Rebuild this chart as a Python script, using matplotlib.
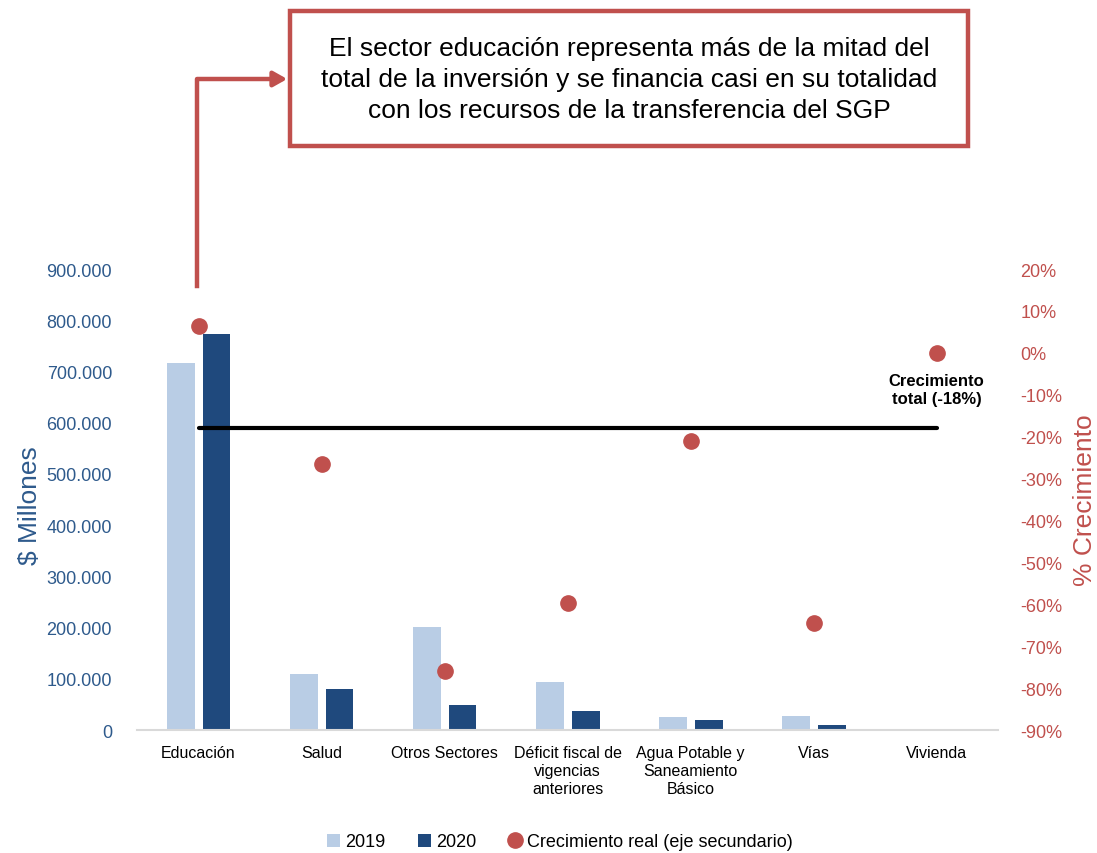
import matplotlib
matplotlib.use("Agg")
import matplotlib.pyplot as plt
import numpy as np

plt.rcParams['font.family'] = ['Liberation Sans', 'DejaVu Sans']

sectores = ["Educación", "Salud", "Otros Sectores", "Déficit fiscal de\nvigencias\nanteriores",
            "Agua Potable y\nSaneamiento\nBásico", "Vías", "Vivienda"]
inv_2019 = [717000, 109000, 200500, 94000, 25000, 28000, 0]
inv_2020 = [773000, 81000, 48000, 38000, 19500, 10000, 0]
crecimiento = [6.5, -26.5, -76, -59.7, -21, -64.4, 0.0]
crec_total = -18

azul_claro = "#B9CDE5"
azul = "#1F497D"
rojo = "#C0504D"
azul_txt = "#2E5A8C"

fig = plt.figure(figsize=(10.97, 8.54), dpi=100)
ax = fig.add_axes([0.1249, 0.144, 0.785, 0.5398])
ax2 = ax.twinx()

x = np.arange(len(sectores))
w = 0.227
ax.bar(x - 0.146, inv_2019, w, color=azul_claro, label="2019", zorder=2)
ax.bar(x + 0.146, inv_2020, w, color=azul, label="2020", zorder=2)

ax.set_xlim(-0.5, 6.5)
ax.set_ylim(0, 900000)
ax.set_yticks(np.arange(0, 900001, 100000))
ax.set_yticklabels(["0"] + [f"{v:,}".replace(",", ".") for v in range(100000, 900001, 100000)])
ax.set_xticks(x)
ax.set_xticklabels(sectores, fontsize=11.5, color="black", linespacing=1.25)
ax.tick_params(axis="y", length=0, labelsize=13, labelcolor=azul_txt, pad=18)
ax.tick_params(axis="x", length=0, pad=11)
ax.set_ylabel("$ Millones", fontsize=19, color=azul_txt, va="center")
ax.yaxis.set_label_coords(-0.124, 0.49)

for a in (ax, ax2):
    for s in ("top", "left", "right"):
        a.spines[s].set_visible(False)
ax.spines["bottom"].set_color("#D9D9D9")
ax.spines["bottom"].set_linewidth(1.5)
ax2.spines["bottom"].set_visible(False)

ax2.plot(x, crecimiento, "o", color=rojo, markersize=11, linestyle="none",
         label="Crecimiento real (eje secundario)", zorder=3)
ax2.plot([x[0], x[-1]], [crec_total, crec_total], color="black", lw=3, solid_capstyle="round", zorder=2)
ax2.set_ylim(-90, 20)
ax2.set_yticks(np.arange(-90, 21, 10))
ax2.set_yticklabels([f"{v}%" for v in range(-90, 21, 10)])
ax2.tick_params(axis="y", length=0, labelsize=13, labelcolor=rojo, pad=16)
ax2.set_ylabel("% Crecimiento", fontsize=19, color=rojo, va="center")
ax2.yaxis.set_label_coords(1.101, 0.5)
ax2.text(x[-1], crec_total + 9.3, "Crecimiento\ntotal (-18%)", ha="center", va="center",
         fontsize=12, fontweight="bold", linespacing=1.25)

# cuadro de texto y flecha
fig.patches.append(plt.Rectangle((290 / 1097, 1 - 147 / 854), 678 / 1097, 135 / 854,
                                 transform=fig.transFigure, fill=False, edgecolor=rojo, lw=3.2))
fig.text(629 / 1097, 1 - 80 / 854,
         "El sector educación representa más de la mitad del\ntotal de la inversión y se financia casi en su totalidad\ncon los recursos de la transferencia del SGP",
         ha="center", va="center", fontsize=19, linespacing=1.35)
fig.add_artist(plt.Line2D([197 / 1097, 197 / 1097, 275 / 1097], [1 - 287 / 854, 1 - 80 / 854, 1 - 80 / 854],
                          transform=fig.transFigure, color=rojo, lw=3.2))
ax.annotate("", xy=(290 / 1097, 1 - 80 / 854), xytext=(270 / 1097, 1 - 80 / 854),
            xycoords="figure fraction", textcoords="figure fraction",
            arrowprops=dict(arrowstyle="-|>,head_length=0.8,head_width=0.45", color=rojo, lw=3.2))

h1, l1 = ax.get_legend_handles_labels()
h2, l2 = ax2.get_legend_handles_labels()
fig.legend(h1 + h2, l1 + l2, loc="center", bbox_to_anchor=(560 / 1097, 1 - 843 / 854), ncol=3,
           frameon=False, fontsize=13, handlelength=0.7, handleheight=0.7, handletextpad=0.3,
           columnspacing=1.8)

fig.savefig("out.png", dpi=100)
